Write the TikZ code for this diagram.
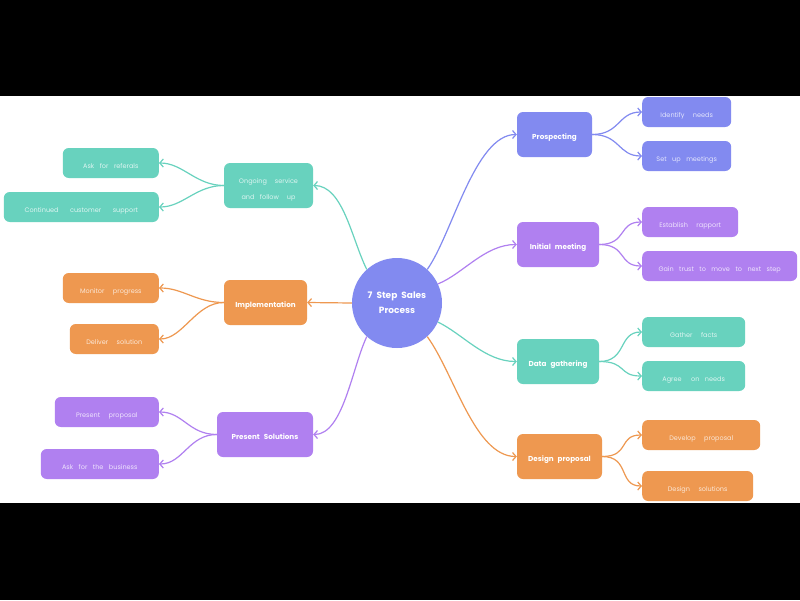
\documentclass[tikz,border=0pt]{standalone}
\usepackage{fontspec}
\setmainfont{Poppins}
\usetikzlibrary{arrows.meta}
\definecolor{cblue}{RGB}{130,138,240}
\definecolor{cpurple}{RGB}{176,128,240}
\definecolor{cteal}{RGB}{104,210,190}
\definecolor{corange}{RGB}{238,152,80}
\newcommand\hubfont{\fontsize{9}{15}\selectfont\bfseries\spaceskip=4pt\relax}
\newcommand\mainfont{\fontsize{7.2}{9}\selectfont\bfseries\spaceskip=4pt\relax}
\newcommand\subfont{\fontsize{6.5}{16}\selectfont\spaceskip=8.5pt\relax}
\newcommand\tightfont{\fontsize{6.5}{16}\selectfont\spaceskip=5.5pt\relax}

\begin{document}
\begin{tikzpicture}[x=1pt,y=-1pt,
  hub/.style={circle, fill=cblue, minimum size=90pt, inner sep=0pt, text=white, align=center, font=\hubfont},
  mainbox/.style={rounded corners=6pt, fill=#1, minimum height=45pt, inner sep=2pt, text=white,
    text height=9pt, text depth=0pt, font=\mainfont},
  subbox/.style={rounded corners=6pt, fill=#1, minimum height=30pt, inner sep=2pt, text=white!78!#1,
    text height=10pt, text depth=0pt, font=\subfont},
  tight/.style={font=\tightfont},
  link/.style={draw=#1, line width=1.2pt, -{Straight Barb[length=3.5pt,width=8pt]}}]

% page: black frame with white canvas
\fill[black] (0,0) rectangle (800,600);
\fill[white] (0,96) rectangle (800,503);
\useasboundingbox (0,0) rectangle (800,600);

% central topic
\node[hub] (c) at (397,303) {7 Step Sales\\Process};

% main steps
\node[mainbox=cblue, minimum width=75pt] (pro) at (554.5,134.5) {Prospecting};
\node[mainbox=cpurple, minimum width=82pt] (ini) at (558,244.5) {Initial meeting};
\node[mainbox=cteal, minimum width=82pt] (dat) at (558,361.5) {Data gathering};
\node[mainbox=corange, minimum width=85pt] (des) at (559.5,456.5) {Design proposal};
\node[mainbox=cteal, minimum width=89pt, text height=, text depth=, font=\tightfont, text=white!78!cteal] (ong) at (268.5,185.5)
  {\raisebox{-3pt}[\height][\depth]{\begin{tabular}{@{}c@{}}Ongoing\hspace{8pt}service\\and follow\hspace{8pt}up\end{tabular}}};
\node[mainbox=corange, minimum width=83pt] (imp) at (265.5,302.5) {Implementation};
\node[mainbox=cpurple, minimum width=96pt] (pre) at (265,434.5) {Present Solutions};

% details, right side
\node[subbox=cblue, anchor=west, minimum width=89pt] (id) at (642,112) {Identify needs};
\node[subbox=cblue, anchor=west, minimum width=89pt, tight] (su) at (642,156) {Set up meetings};
\node[subbox=cpurple, anchor=west, minimum width=96pt] (er) at (642,222) {Establish rapport};
\node[subbox=cpurple, anchor=west, minimum width=155pt, tight] (gt) at (642,266) {Gain trust to move to next step};
\node[subbox=cteal, anchor=west, minimum width=103pt] (gf) at (642,332) {Gather facts};
\node[subbox=cteal, anchor=west, minimum width=103pt, tight] (ag) at (642,376) {Agree\hspace{4pt} on needs};
\node[subbox=corange, anchor=west, minimum width=118pt] (dp) at (642,435) {Develop proposal};
\node[subbox=corange, anchor=west, minimum width=111pt] (ds) at (642,486) {Design solutions};

% details, left side
\node[subbox=cteal, anchor=east, minimum width=96pt, tight] (ar) at (159,163) {Ask for referals};
\node[subbox=cteal, anchor=east, minimum width=155pt] (cs) at (159,207) {Continued\hspace{3pt} customer\hspace{3pt} support};
\node[subbox=corange, anchor=east, minimum width=96pt] (mp) at (159,288) {Monitor progress};
\node[subbox=corange, anchor=east, minimum width=89pt] (dl) at (159,339) {Deliver solution};
\node[subbox=cpurple, anchor=east, minimum width=104pt] (pp) at (159,412) {Present proposal};
\node[subbox=cpurple, anchor=east, minimum width=118pt, tight] (ab) at (159,464) {Ask for the business};

% hub to main steps
\draw[link=cblue] (c.48) .. controls +(25,-35) and +(-42,0) .. (pro.west);
\draw[link=cpurple] (c.25) .. controls +(25,-10) and +(-32,0) .. (ini.west);
\draw[link=cteal] (c.-25) .. controls +(25,12) and +(-32,0) .. (dat.west);
\draw[link=corange] (c.-48) .. controls +(27,37) and +(-42,0) .. (des.west);
\draw[link=cteal] (c.132) .. controls +(-15,-30) and +(30,0) .. (ong.east);
\draw[link=corange] (c.west) -- (imp.east);
\draw[link=cpurple] (c.228) .. controls +(-15,32) and +(30,0) .. (pre.east);

% main steps to details
\foreach \a/\b/\col in {pro/id/cblue, pro/su/cblue, ini/er/cpurple, ini/gt/cpurple,
                        dat/gf/cteal, dat/ag/cteal, des/dp/corange, des/ds/corange}
  \draw[link=\col] (\a.east) .. controls +(28,0) and +(-24,0) .. (\b.west);
\foreach \a/\b/\col in {ong/ar/cteal, ong/cs/cteal, imp/mp/corange, imp/dl/corange,
                        pre/pp/cpurple, pre/ab/cpurple}
  \draw[link=\col] (\a.west) .. controls +(-28,0) and +(24,0) .. (\b.east);
\end{tikzpicture}
\end{document}
